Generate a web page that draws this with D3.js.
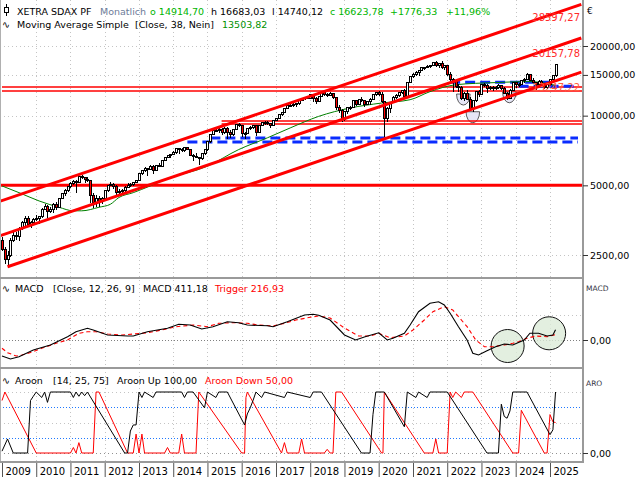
<!DOCTYPE html>
<html><head><meta charset="utf-8">
<script src="https://cdn.jsdelivr.net/npm/d3@7"></script>
<style>body{margin:0;background:#fff}svg text{font-family:"DejaVu Sans",sans-serif}</style>
</head><body><svg id="c" width="640" height="480"></svg>
<script>
// ---------- DATA (monthly, Jan 2009 .. Mar 2025) ----------
const years = [2009,2010,2011,2012,2013,2014,2015,2016,2017,2018,2019,2020,2021,2022,2023,2024,2025];
const opens = [
2900,2650,2380,2480,2900,3050,3000,3250,3450,3600,3400,3450,
3550,3600,3650,3950,4050,3850,3950,4150,4000,4400,4600,4750,
4950,5100,5200,5150,5450,5400,5300,5250,4500,4200,4400,4250,
4400,4750,5000,5050,4950,4650,4700,4750,4900,5000,5050,5150,
5250,5650,5800,5900,5850,6050,5800,6100,6050,6400,6600,6700,
6800,6900,7200,7150,7100,7250,7150,6750,6650,6600,6500,6850,
7150,7700,8300,8650,8600,8750,8450,8800,8500,8300,8700,9150,
9100,8350,8400,8800,8900,9050,8500,9050,9300,9350,9250,9100,
9500,9700,10100,10350,10750,11100,11100,11150,11250,11650,11900,11950,
11900,12300,11900,11550,12100,12600,12300,12250,12450,12000,10800,10500,
9600,10400,10800,10900,11600,11200,11800,11600,11200,11500,11800,12300,
12600,12350,11500,9700,10750,11450,11950,12200,12650,12800,12050,13900,
14750,15100,15300,15700,16100,16200,16350,16400,17000,16400,16800,16100,
16400,15000,14300,14100,13400,13300,11900,12500,11800,10700,11600,12700,
12400,13600,13500,13100,13300,13200,13200,13500,13100,12500,11900,12900,
13950,13600,13600,14200,14400,15000,14200,13900,13700,14100,13800,13200,
13700,14300,14914.70];
const highs = [
3000,2720,2600,2950,3150,3150,3300,3520,3680,3700,3520,3600,
3720,3700,4000,4150,4100,4050,4200,4250,4420,4650,4800,4980,
5150,5280,5250,5480,5550,5450,5450,5280,4650,4550,4500,4450,
4780,5020,5150,5100,5000,4800,4800,4950,5100,5100,5180,5280,
5680,5850,5980,5950,6150,6150,6120,6250,6420,6650,6750,6850,
7050,7250,7280,7250,7300,7350,7200,6800,6900,6650,6900,7200,
7750,8320,8700,8850,8900,8850,8900,8950,8650,8750,9200,9300,
9150,8500,8850,9000,9100,9150,9100,9350,9450,9450,9300,9550,
9800,10150,10400,10800,11150,11300,11300,11350,11700,11950,12100,12050,
12450,12400,12000,12150,12700,12800,12500,12600,12550,12050,11100,10650,
10500,10850,11050,11700,11700,11850,12000,11700,11600,11900,12350,12650,
12800,12650,11600,10900,11500,12200,12350,12700,12900,13000,13950,14800,
15250,15600,15800,16200,16300,16500,16600,17100,17200,16900,17300,16500,
16500,15500,14500,14300,13700,13500,12700,12900,12000,11700,12800,12900,
13700,13900,13700,13400,13400,13500,13700,13600,13300,12600,13000,14000,
14000,13800,14300,14600,15300,15100,14500,14000,14200,14300,13900,14000,
14400,15000,16683.03];
const lows = [
2600,2280,2200,2450,2850,2900,2880,3200,3350,3350,3280,3400,
3500,3420,3620,3900,3600,3780,3800,3900,3980,4350,4500,4700,
4850,5000,4650,5100,5300,5100,5150,4200,4000,4050,4050,4150,
4380,4700,4950,4800,4550,4500,4550,4700,4850,4900,4950,5100,
5240,5550,5700,5500,5820,5600,5780,6000,6000,6350,6550,6550,
6750,6800,6850,6950,7000,7100,6700,6400,6550,6100,6450,6750,
7050,7650,8250,8500,8450,8250,8300,7900,8000,8200,8650,8900,
8100,7900,8350,8650,8750,8200,8400,9000,9150,9150,8850,9050,
9450,9650,10000,10250,10700,10950,10900,10950,11150,11600,11650,11750,
11850,11500,11250,11500,12050,12150,12050,12150,11850,10600,10300,9400,
9500,10200,10600,10850,11000,11100,11500,10850,11100,11150,11750,12150,
12200,11300,8100,9400,10300,11350,11800,12050,12400,11900,12000,13800,
14600,14900,14900,15600,15700,16000,16000,16350,16300,16100,15900,15700,
14800,13800,12700,13200,12700,11700,11600,11700,10500,10400,11500,12100,
12350,13300,12500,12900,12800,12900,13000,12900,12400,11700,11800,12850,
13200,13300,13550,13900,14300,14100,13800,12900,13400,13700,13000,13100,
13500,14100,14740.12];
const closes = [
2650,2380,2480,2900,3050,3000,3250,3450,3600,3400,3450,3550,
3600,3650,3950,4050,3850,3950,4150,4000,4400,4600,4750,4950,
5100,5200,5150,5450,5400,5300,5250,4500,4200,4400,4250,4400,
4750,5000,5050,4950,4650,4700,4750,4900,5000,5050,5150,5250,
5650,5800,5900,5850,6050,5800,6100,6050,6400,6600,6700,6800,
6900,7200,7150,7100,7250,7150,6750,6650,6600,6500,6850,7150,
7700,8300,8650,8600,8750,8450,8800,8500,8300,8700,9150,9100,
8350,8400,8800,8900,9050,8500,9050,9300,9350,9250,9100,9500,
9700,10100,10350,10750,11100,11100,11150,11250,11650,11900,11950,11900,
12300,11900,11550,12100,12600,12300,12250,12450,12000,10800,10500,9600,
10400,10800,10900,11600,11200,11800,11600,11200,11500,11800,12300,12600,
12350,11500,9700,10750,11450,11950,12200,12650,12800,12050,13900,14750,
15100,15300,15700,16100,16200,16350,16400,17000,16400,16800,16100,16400,
15000,14300,14100,13400,13300,11900,12500,11800,10700,11600,12700,12400,
13600,13500,13100,13300,13200,13200,13500,13100,12500,11900,12900,13950,
13600,13600,14200,14400,15000,14200,13900,13700,14100,13800,13200,13700,
14300,14847.45,16623.78];

// Moving average 38 : [monthIndex, value]
const ma38 = [[0,4970],[6,4650],[13,4280],[20,4020],[25,3880],[28,3880],[34,4020],[38,4140],[41,4430],[46,4650],[52,4970],[58,5340],[72,6050],[83,7140],[93,8020],[101,8850],[111,9930],[122,10790],[133,11340],[143,11720],[150,12700],[159,13600],[173,13900],[185,14040],[194,13503.82]];

// Trend channel lines: [monthIndex, price] anchors
const channelA = [[-1,4253],[203,30250]];
const channelB = [[-1,3018],[203,21650]];
const channelC = [[2,2224],[203,15430]];
const hLinesThin = [[0,13247.22],[0,12830],[77,9500],[77,9230]];   // [startMonth, price]
const hLineThick = 5000;
const blueDashed = [[73,203,8003],[65,203,7690],[157,193,13930],[181,201,13400]]; // [fromMonth,toMonth,price]
const priceEllipses = [[161.7,12400],[165,10400],[177.8,12680]]; // [month, top price]
const channelLabels = [["28597,27",28597.27],["20157,78",20157.78],["13247,22",13247.22]];
const yTicks = [20000,15000,10000,5000,2500];

// MACD
const macd = [[0,-640],[3,-760],[6,-670],[11,-400],[17,-200],[23,130],[26,330],[30,470],[32,400],[37,200],[44,160],[46,160],[51,330],[58,470],[62,630],[66,600],[70,440],[74,530],[79,730],[83,690],[86,600],[93,570],[95,530],[100,730],[106,1000],[109,1030],[111,990],[115,800],[120,200],[124,0],[127,120],[132,290],[135,0],[137,70],[141,270],[143,600],[146,1130],[150,1470],[153,1530],[155,1400],[157,1070],[160,530],[163,0],[165,-530],[167,-600],[170,-430],[173,-270],[176,-160],[179,-200],[183,0],[185,270],[188,270],[191,160],[193,200],[194,411.18]];
const trigger = [[0,-332],[2,-508],[5,-640],[7,-600],[11,-468],[14,-332],[19,-132],[23,0],[27,268],[30,332],[33,332],[37,240],[42,200],[46,240],[51,292],[56,400],[61,532],[67,600],[72,532],[76,668],[81,692],[86,668],[90,600],[95,560],[99,668],[103,800],[108,908],[111,960],[115,880],[120,480],[125,160],[129,160],[132,268],[136,92],[141,160],[144,400],[148,800],[151,1132],[155,1332],[158,1200],[160,932],[163,532],[166,0],[169,-268],[172,-268],[176,-200],[179,-132],[181,-68],[184,68],[187,160],[191,132],[194,216.93]];
const macdCircles = [[177.2,-240],[191.7,268]];

// Aroon
const aroonUp = [[0,3],[2,23],[4,0],[9,0],[10,86],[11,93],[12,100],[14,91],[15,100],[16,83],[17,100],[24,100],[25,91],[26,100],[27,93],[28,100],[29,94],[30,100],[43,0],[44,0],[45,36],[46,46],[47,46],[48,100],[49,91],[50,100],[53,91],[54,100],[63,100],[64,91],[65,100],[67,100],[71,74],[72,100],[75,91],[76,100],[79,100],[85,46],[86,64],[87,74],[88,86],[89,100],[91,91],[92,100],[99,91],[100,100],[108,91],[109,100],[112,100],[126,0],[129,0],[130,63],[131,100],[134,100],[141,43],[142,100],[145,91],[146,100],[149,91],[150,100],[156,100],[170,0],[174,0],[175,80],[176,60],[177,57],[178,69],[179,100],[184,100],[192,30],[193,38],[194,100]];
const aroonDown = [[0,86],[1,100],[12,0],[24,0],[25,9],[26,0],[27,17],[28,0],[32,0],[33,100],[34,100],[44,0],[46,0],[47,31],[48,0],[49,31],[50,0],[57,0],[58,9],[59,0],[62,0],[63,31],[64,0],[68,0],[69,100],[84,0],[85,0],[85.5,91],[86,100],[98,0],[99,17],[100,0],[104,0],[105,23],[106,0],[113,0],[114,6],[115,0],[116,0],[117,100],[119,100],[133,0],[133.5,0],[134,100],[148,0],[151,0],[152,23],[153,0],[156,0],[157,100],[158,91],[159,100],[161,91],[162,100],[165,100],[179,0],[181,0],[182,70],[190,0],[191,0],[192,63],[193,51],[194,50]];
const aroonLevels = [75,25];

// ---------- SETUP ----------
const svg = d3.select('#c');
const RX = 583;
const md = m => { const f = Math.floor(m); const a = Date.UTC(2009,f,1), b = Date.UTC(2009,f+1,1); return new Date(a + (b-a)*(m-f)); };
const x = d3.scaleUtc().domain([new Date(Date.UTC(2009,0,1)), new Date(Date.UTC(2025,0,1))]).range([2,550]);
const xm = m => x(md(m));
const yP = d3.scaleLog().domain([2500,20000]).range([255,46]);
const yM = d3.scaleLinear().domain([0,1000]).range([340,315]);
const yA = d3.scaleLinear().domain([0,100]).range([453,392]);
const fmt = d3.formatLocale({decimal:",",thousands:".",grouping:[3],currency:["","€"]}).format(".2f");
const snap = v => Math.round(v) + 0.5;

const defs = svg.append('defs');
defs.append('clipPath').attr('id','cp1').append('rect').attr('x',0).attr('y',0).attr('width',RX).attr('height',277);
defs.append('clipPath').attr('id','cp2').append('rect').attr('x',0).attr('y',280).attr('width',RX).attr('height',86);
defs.append('clipPath').attr('id','cp3').append('rect').attr('x',0).attr('y',369).attr('width',RX).attr('height',92);

// grid
const gridG = svg.append('g');
years.slice(1).forEach(yr => {
  const gx = snap(x(new Date(Date.UTC(yr,0,1))));
  gridG.append('line').attr('x1',gx).attr('x2',gx).attr('y1',0).attr('y2',462)
    .attr('stroke','#c4c4c4').attr('stroke-dasharray','1,3');
});
yTicks.forEach(v => {
  const gy = snap(yP(v));
  gridG.append('line').attr('x1',0).attr('x2',RX).attr('y1',gy).attr('y2',gy).attr('stroke','#c4c4c4').attr('stroke-dasharray','1,3');
});
[1000].forEach(v => { const gy = snap(yM(v)); gridG.append('line').attr('x1',0).attr('x2',RX).attr('y1',gy).attr('y2',gy).attr('stroke','#c4c4c4').attr('stroke-dasharray','1,3'); });
gridG.append('line').attr('x1',0).attr('x2',RX).attr('y1',snap(yM(0))).attr('y2',snap(yM(0))).attr('stroke','#808080').attr('stroke-dasharray','1,2');
[100,50,0].forEach(v => { const gy = snap(yA(v)); gridG.append('line').attr('x1',0).attr('x2',RX).attr('y1',gy).attr('y2',gy).attr('stroke', v===0?'#909090':'#c4c4c4').attr('stroke-dasharray','1,3'); });

// ---------- MAIN PANEL ----------
const main = svg.append('g').attr('clip-path','url(#cp1)');
priceEllipses.forEach(([m,p]) => {
  const cx = xm(m), ty = yP(p), rx = 6.8, ry = 11;
  main.append('path').attr('d',`M${cx-rx},${ty} A${rx},${ry} 0 0 0 ${cx+rx},${ty} Z`)
    .attr('fill','#e6e6f6').attr('stroke','#333').attr('stroke-width',0.8);
});
hLinesThin.forEach(([m0,p]) => {
  main.append('line').attr('x1',Math.max(0,xm(m0))).attr('x2',RX).attr('y1',Math.round(yP(p))).attr('y2',Math.round(yP(p)))
    .attr('stroke','#ff0000').attr('stroke-width',1.3);
});
main.append('line').attr('x1',0).attr('x2',RX).attr('y1',yP(hLineThick)).attr('y2',yP(hLineThick)).attr('stroke','#ff0000').attr('stroke-width',3);
blueDashed.forEach(([a,b,p]) => {
  main.append('line').attr('x1',xm(a)).attr('x2',Math.min(xm(b),578)).attr('y1',yP(p)).attr('y2',yP(p))
    .attr('stroke','#0a2cff').attr('stroke-width',3).attr('stroke-dasharray','10,5');
});
main.append('path').datum(ma38).attr('fill','none').attr('stroke','#008000').attr('stroke-width',1)
  .attr('d', d3.line().x(d=>xm(d[0])).y(d=>yP(d[1])).curve(d3.curveMonotoneX));
const cg = main.append('g').attr('shape-rendering','crispEdges');
closes.forEach((c,i) => {
  const o = opens[i], h = highs[i], l = lows[i];
  const cx = Math.round(xm(i));
  cg.append('line').attr('x1',cx+0.5).attr('x2',cx+0.5).attr('y1',yP(h)).attr('y2',yP(l)).attr('stroke','#000');
  const top = yP(Math.max(o,c)), bot = yP(Math.min(o,c));
  cg.append('rect').attr('x',cx-0.5).attr('y',top).attr('width',2).attr('height',Math.max(1,bot-top))
    .attr('fill', c>=o ? '#fff' : '#ff0000').attr('stroke','#000').attr('stroke-width',1);
});
[channelA, channelB, channelC].forEach(ch => {
  main.append('path').datum(ch).attr('fill','none').attr('stroke','#ff0000').attr('stroke-width',3)
    .attr('d', d3.line().x(d=>xm(d[0])).y(d=>yP(d[1])));
});
const lblY = [21,57,91];
channelLabels.forEach(([t,p],i) => {
  svg.append('text').attr('x',580).attr('y',lblY[i]).attr('text-anchor','end').attr('font-size',10)
    .attr('fill', i===2 ? '#ff5a3c' : '#ff2a2a').text(t);
});

// ---------- MACD PANEL ----------
const mg = svg.append('g').attr('clip-path','url(#cp2)');
macdCircles.forEach(([m,v]) => {
  mg.append('circle').attr('cx',xm(m)).attr('cy',yM(v)).attr('r',16.5).attr('fill','#dcebd8').attr('fill-opacity',0.8).attr('stroke','#111').attr('stroke-width',1);
});
mg.append('path').datum(trigger).attr('fill','none').attr('stroke','#ff0000').attr('stroke-width',1.1).attr('stroke-dasharray','4,3')
  .attr('d', d3.line().x(d=>xm(d[0])).y(d=>yM(d[1])));
mg.append('path').datum(macd).attr('fill','none').attr('stroke','#000').attr('stroke-width',1.1)
  .attr('d', d3.line().x(d=>xm(d[0])).y(d=>yM(d[1])));

// ---------- AROON PANEL ----------
const ag = svg.append('g').attr('clip-path','url(#cp3)');
aroonLevels.forEach(v => {
  ag.append('line').attr('x1',0).attr('x2',RX).attr('y1',snap(yA(v))).attr('y2',snap(yA(v)))
    .attr('stroke','#1e78ff').attr('stroke-dasharray','1,2');
});
ag.append('path').datum(aroonDown).attr('fill','none').attr('stroke','#ff0000').attr('stroke-width',1)
  .attr('d', d3.line().x(d=>xm(d[0])).y(d=>yA(d[1])));
ag.append('path').datum(aroonUp).attr('fill','none').attr('stroke','#000').attr('stroke-width',1)
  .attr('d', d3.line().x(d=>xm(d[0])).y(d=>yA(d[1])));

// ---------- FRAMES ----------
const fr = svg.append('g');
fr.append('line').attr('x1',RX).attr('x2',RX).attr('y1',0).attr('y2',463).attr('stroke','#9a9a9a').attr('stroke-width',2);
fr.append('line').attr('x1',0.5).attr('x2',0.5).attr('y1',0).attr('y2',463).attr('stroke','#b0b0b0');
[278, 368, 462].forEach(yy => fr.append('line').attr('x1',0).attr('x2',RX+1).attr('y1',yy).attr('y2',yy).attr('stroke','#9a9a9a').attr('stroke-width',2));

// ---------- AXES ----------
function styleAxis(g){ g.select('.domain').remove(); g.attr('font-family','DejaVu Sans').attr('font-size',9.5); g.selectAll('text').attr('fill','#000'); g.selectAll('line').attr('stroke','#333'); }
svg.append('g').attr('transform',`translate(${RX},0)`).call(d3.axisRight(yP).tickValues(yTicks).tickFormat(fmt).tickSize(5).tickPadding(2)).call(styleAxis);
svg.append('g').attr('transform',`translate(${RX},0)`).call(d3.axisRight(yM).tickValues([0]).tickFormat(fmt).tickSize(5).tickPadding(2)).call(styleAxis);
svg.append('g').attr('transform',`translate(${RX},0)`).call(d3.axisRight(yA).tickValues([0]).tickFormat(fmt).tickSize(5).tickPadding(2)).call(styleAxis);
const xa = svg.append('g').attr('transform','translate(0,463)')
  .call(d3.axisBottom(x).tickValues(years.map(yr=>new Date(Date.UTC(yr,0,1)))).tickFormat(d3.utcFormat('%Y')).tickSize(14).tickPadding(0));
xa.call(styleAxis);
xa.selectAll('line').attr('stroke','#555');
xa.selectAll('text').attr('text-anchor','start').attr('x',3).attr('y',5).attr('dy','0.71em').attr('font-size',10);

svg.append('text').attr('x',587).attr('y',14).attr('font-size',9).attr('fill','#000').text('€');
svg.append('text').attr('x',586).attr('y',291).attr('font-size',7.5).attr('fill','#334').text('MACD');
svg.append('text').attr('x',586).attr('y',386).attr('font-size',7.5).attr('fill','#334').text('ARO');

// ---------- HEADERS ----------
function seg(y, parts){ parts.forEach(([xx,t,col]) => svg.append('text').attr('x',xx).attr('y',y).attr('font-size',9.5).attr('fill',col).text(t)); }
svg.append('line').attr('x1',6.5).attr('x2',6.5).attr('y1',4).attr('y2',16).attr('stroke','#000');
svg.append('rect').attr('x',4.5).attr('y',7.5).attr('width',4).attr('height',5).attr('fill','#fff').attr('stroke','#000');
seg(15, [[17,'XETRA SDAX PF','#000'],[100,'Monatlich','#6d7c99'],[150,'o 14914,70','#00b400'],[211,'h 16683,03','#000'],[272,'l 14740,12','#000'],[330,'c 16623,78','#00b400'],[390,'+1776,33','#00b400'],[446,'+11,96%','#00b400']]);
seg(28, [[2,'∿','#000'],[17,'Moving Average Simple','#000'],[135,'[Close, 38, Nein]','#000'],[222,'13503,82','#009000']]);
seg(292, [[2,'∿','#000'],[15,'MACD','#000'],[53,'[Close, 12, 26, 9]','#000'],[143,'MACD 411,18','#000'],[215,'Trigger 216,93','#ff0000']]);
seg(384, [[2,'∿','#000'],[15,'Aroon','#000'],[53,'[14, 25, 75]','#000'],[117,'Aroon Up 100,00','#000'],[205,'Aroon Down 50,00','#ff0000']]);
</script></body></html>
